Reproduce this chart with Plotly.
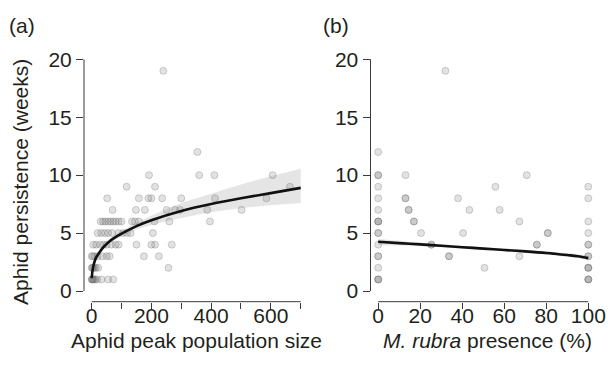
import plotly.graph_objects as go

# ---------------- data ----------------
# Panel (a): aphid peak population size vs persistence (weeks)
a_x = [0, 1, 3, 5, 8, 12, 18, 33, 55, 72,
       0, 2, 5, 9, 14, 22, 257,
       0, 4, 10, 20, 35, 50, 60, 175, 225,
       5, 15, 28, 40, 50, 65, 80, 90, 150, 200, 212, 268,
       20, 32, 44, 55, 68, 90, 105, 118, 130, 205,
       30, 38, 46, 55, 63, 72, 80, 90, 100, 135, 145, 158, 210, 260, 396,
       70, 148, 178, 251, 279, 296, 387, 502,
       52, 158, 190, 200, 236, 300, 413, 585,
       117, 212, 664,
       192, 360, 411, 606,
       354,
       240]
a_y = [1] * 10 + [2] * 7 + [3] * 9 + [4] * 12 + [5] * 10 + [6] * 15 + \
      [7] * 8 + [8] * 8 + [9] * 3 + [10] * 4 + [12] + [19]

# fitted curve and confidence band, panel (a)
a_fit_x = [0, 3, 8, 15, 25, 40, 60, 80, 100, 150, 200, 300, 400, 500, 600, 700]
a_fit_y = [1.1, 1.8, 2.4, 2.9, 3.3, 3.8, 4.3, 4.65, 4.95, 5.6, 6.1, 6.9, 7.5, 8.0, 8.45, 8.9]
a_lo = [0.95, 1.6, 2.2, 2.7, 3.1, 3.6, 4.1, 4.45, 4.7, 5.3, 5.7, 6.3, 6.8, 7.15, 7.4, 7.6]
a_hi = [1.3, 2.0, 2.6, 3.1, 3.5, 4.0, 4.5, 4.9, 5.2, 5.9, 6.5, 7.6, 8.4, 9.2, 9.9, 10.55]

# Panel (b): M. rubra presence (%) vs persistence (weeks)
b_x = [0] * 18 + [13, 13, 13, 14.5, 14.5, 17, 17, 20.4, 25.3, 25.3, 32, 33.7, 33.7,
       38, 40.4, 43.4, 50.6, 55.8, 57.8, 67.2, 67.2, 70.7, 75.5, 75.5, 80.7, 80.7] + [100] * 14
b_y = [12, 10, 10, 9, 8, 7, 6, 6, 6, 5, 5, 4, 3, 3, 2, 1, 1, 1] + \
      [10, 8, 8, 7, 7, 6, 6, 5, 4, 4, 19, 3, 3,
       8, 5, 7, 2, 9, 7, 6, 3, 10, 4, 4, 5, 5] + \
      [9, 8, 6, 5, 4, 4, 3, 3, 2, 2, 2, 1, 1, 1]

b_fit_x = [0, 10, 20, 30, 40, 50, 60, 70, 80, 90, 95, 100]
b_fit_y = [4.25, 4.13, 4.02, 3.9, 3.78, 3.66, 3.54, 3.42, 3.28, 3.1, 3.0, 2.85]
b_lo = [3.97, 3.92, 3.86, 3.77, 3.66, 3.54, 3.42, 3.29, 3.13, 2.93, 2.82, 2.65]
b_hi = [4.52, 4.34, 4.18, 4.03, 3.9, 3.78, 3.66, 3.55, 3.43, 3.27, 3.18, 3.05]

x_ticks_a = [0, 100, 200, 300, 400, 500, 600, 700]
x_ticklabels_a = ["0", "", "200", "", "400", "", "600", ""]
x_ticks_b = [0, 20, 40, 60, 80, 100]
y_ticks = [0, 5, 10, 15, 20]

# ---------------- style ----------------
FONT = "Liberation Sans, Arial, Helvetica, sans-serif"
TXT = "#231f20"
AX = "#3a3a3a"
FS = 21
W, H = 608, 366

fig = go.Figure()

def add_panel(xs, ys, fx, fy, lo, hi, xa, ya, msize):
    fig.add_trace(go.Scatter(x=fx, y=lo, mode="lines", line=dict(width=0, color="rgba(0,0,0,0)"),
                             line_shape="spline", hoverinfo="skip", showlegend=False,
                             xaxis=xa, yaxis=ya))
    fig.add_trace(go.Scatter(x=fx, y=hi, mode="lines", line=dict(width=0, color="rgba(0,0,0,0)"),
                             line_shape="spline", fill="tonexty", fillcolor="rgba(218,218,218,0.7)",
                             hoverinfo="skip", showlegend=False, xaxis=xa, yaxis=ya))
    fig.add_trace(go.Scatter(x=xs, y=ys, mode="markers",
                             marker=dict(size=msize, color="rgba(110,110,110,0.2)",
                                         line=dict(width=1, color="rgba(110,110,110,0.3)")),
                             cliponaxis=False, showlegend=False, xaxis=xa, yaxis=ya))
    fig.add_trace(go.Scatter(x=fx, y=fy, mode="lines", line=dict(width=2.6, color="#111111"),
                             line_shape="spline", showlegend=False, xaxis=xa, yaxis=ya))

add_panel(a_x, a_y, a_fit_x, a_fit_y, a_lo, a_hi, "x", "y", 7)
add_panel(b_x, b_y, b_fit_x, b_fit_y, b_lo, b_hi, "x2", "y2", 7)

ydom = [(H - 301.7) / H, (H - 55) / H]
yrange = [-0.924, 20.37]

common_x = dict(showgrid=False, zeroline=False, showline=False, ticks="outside", ticklen=6,
                tickwidth=1, tickcolor=AX, automargin=False, ticklabelstandoff=-11,
                tickfont=dict(family=FONT, size=FS, color=TXT))
common_y = dict(showgrid=False, zeroline=False, showline=False, ticks="outside", ticklen=7,
                tickwidth=1, tickcolor=AX, automargin=False,
                tickfont=dict(family=FONT, size=FS, color=TXT),
                range=yrange, domain=ydom, tickmode="array", tickvals=y_ticks,
                ticktext=[str(v) for v in y_ticks])

fig.update_layout(
    width=W, height=H, margin=dict(l=0, r=0, t=0, b=0),
    paper_bgcolor="white", plot_bgcolor="white",
    font=dict(family=FONT, size=FS, color=TXT),
    xaxis=dict(common_x, domain=[84 / W, 305 / W], range=[-25.8, 714.4],
               tickmode="array", tickvals=x_ticks_a, ticktext=x_ticklabels_a),
    yaxis=dict(common_y, anchor="x"),
    xaxis2=dict(common_x, domain=[370.5 / W, 592 / W], range=[-3.66, 101.76],
                tickmode="array", tickvals=x_ticks_b, ticktext=[str(v) for v in x_ticks_b],
                anchor="y2"),
    yaxis2=dict(common_y, anchor="x2"),
)

# axis lines spanning only the tick range (R style)
for xr, yr, x0, x1 in [("x", "y", 0, 700), ("x2", "y2", 0, 100)]:
    fig.add_shape(type="line", xref=xr, yref=yr + " domain", x0=x0, x1=x1, y0=0, y1=0,
                  line=dict(color=AX, width=1))
    fig.add_shape(type="line", xref=xr + " domain", yref=yr, x0=0, x1=0, y0=0, y1=20,
                  line=dict(color=AX, width=1))

def ann(text, xpx, ypx, angle=0, size=FS):
    fig.add_annotation(text=text, x=xpx / W, y=(H - ypx) / H, xref="paper", yref="paper",
                       showarrow=False, xanchor="center", yanchor="middle", textangle=angle,
                       font=dict(family=FONT, size=size, color=TXT))

ann("(a)", 22, 26, size=21)
ann("(b)", 336, 26, size=21)
ann("Aphid persistence (weeks)", 20, 182, angle=-90)
ann("Aphid peak population size", 196, 340)
ann("<i>M. rubra</i> presence (%)", 487, 340)

fig.write_html("out.html")
